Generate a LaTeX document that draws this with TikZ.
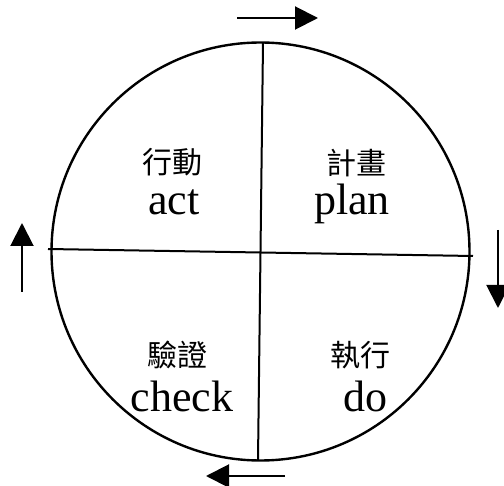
\documentclass[tikz,border=0pt]{standalone}
\usepackage{fontspec}
\setmainfont{Liberation Serif}
\newfontfamily\cjk{Noto Sans CJK TC}
\usetikzlibrary{arrows.meta}
\begin{document}
\begin{tikzpicture}[x=1pt,y=-1pt,
  ring/.style={draw,circle,line width=2.4pt,minimum size=418pt,inner sep=0pt},
  divider/.style={line width=2pt},
  flow/.style={line width=2pt,-{Triangle[length=23pt,width=23pt]}},
  zh/.style={font=\cjk\fontsize{30}{32}\selectfont,inner sep=0pt},
  en/.style={font=\fontsize{44}{48}\selectfont,inner sep=0pt,anchor=base}]
\useasboundingbox (0,0) rectangle (504,486);
\node[ring] (c) at (260.5,251.5) {};
\coordinate (t) at (263,43);
\coordinate (b) at (258,460);
\coordinate (l) at (48,249);
\coordinate (r) at (473,256);
\draw[divider] (t) -- (b);
\draw[divider] (l) -- (r);
% arrows
\coordinate (ta) at (237,18); \coordinate (tb) at (318,18);
\coordinate (ra) at (498,230); \coordinate (rb) at (498,308);
\coordinate (ba) at (285,476); \coordinate (bb) at (206,476);
\coordinate (la) at (22,292); \coordinate (lb) at (22,223);
\draw[flow] (ta) -- (tb);
\draw[flow] (ra) -- (rb);
\draw[flow] (ba) -- (bb);
\draw[flow] (la) -- (lb);
% labels
\node[zh] (z1) at (172,162) {行動};
\node[zh] (z2) at (356,163) {計畫};
\node[zh] (z3) at (177,355) {驗證};
\node[zh] (z4) at (360,355) {執行};
\node[en] (e1) at (174,215) {act};
\node[en] (e2) at (352,215) {plan};
\node[en] (e3) at (182,412) {check};
\node[en] (e4) at (365,412) {do};
\end{tikzpicture}
\end{document}
